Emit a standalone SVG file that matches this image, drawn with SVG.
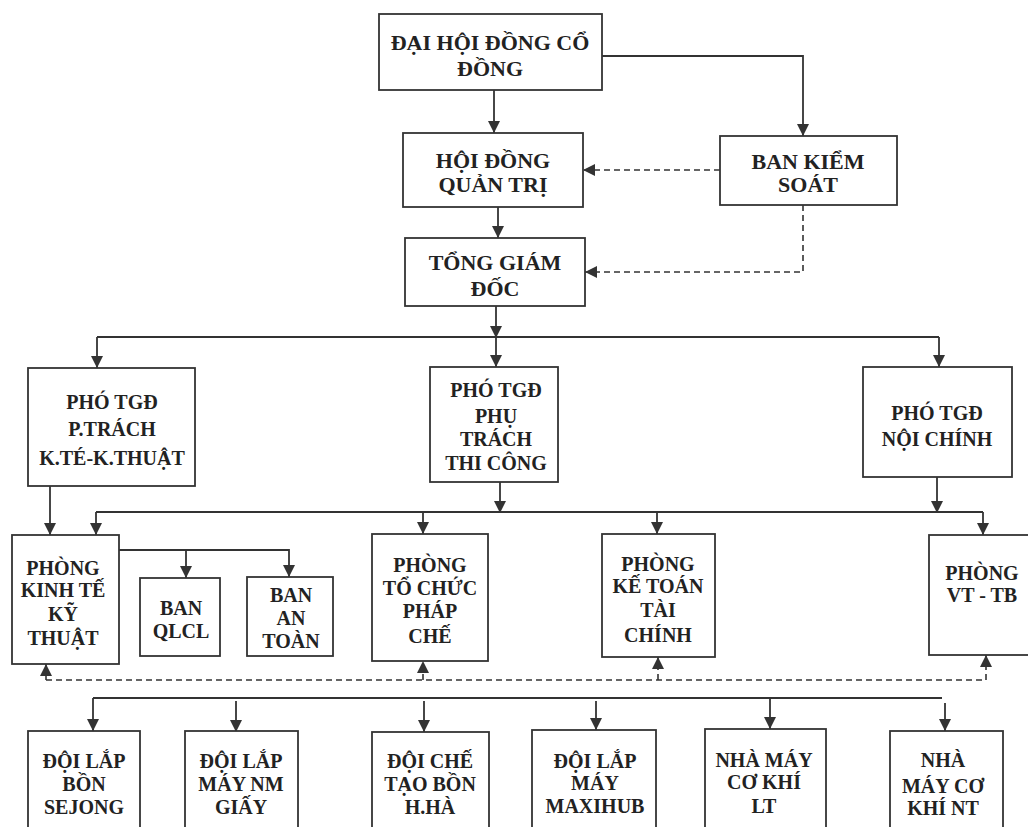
<svg xmlns="http://www.w3.org/2000/svg" width="1028" height="827" viewBox="0 0 1028 827">
<style>
.box{fill:#fff;stroke:#333;stroke-width:1.8}
.t{font-family:"Liberation Serif","Times New Roman",serif;font-weight:bold;font-size:20px;fill:#222;text-anchor:middle}
.b{font-size:22px}
.c{fill:none;stroke:#333;stroke-width:1.8}
.d{fill:none;stroke:#333;stroke-width:1.6;stroke-dasharray:6 4}
</style>
<defs>
<marker id="ah" markerUnits="userSpaceOnUse" markerWidth="12" markerHeight="12" viewBox="0 0 12 12" refX="12" refY="6" orient="auto">
<path d="M0,0 L12,6 L0,12 Z" fill="#333"/>
</marker>
</defs>
<rect width="1028" height="827" fill="#fff"/>

<g id="connectors">
<path class="c" d="M494,90 V133" marker-end="url(#ah)"/>
<path class="c" d="M602,56 H803 V136" marker-end="url(#ah)"/>
<path class="d" d="M720,170 H583" marker-end="url(#ah)"/>
<path class="c" d="M498,207 V238" marker-end="url(#ah)"/>
<path class="d" d="M803,205 V272 H585" marker-end="url(#ah)"/>
<path class="c" d="M496,306 V338" marker-end="url(#ah)"/>
<path class="c" d="M97,337 H939"/>
<path class="c" d="M496,337 V367" marker-end="url(#ah)"/>
<path class="c" d="M97,337 V368" marker-end="url(#ah)"/>
<path class="c" d="M939,337 V367" marker-end="url(#ah)"/>
<path class="c" d="M50,486 V535" marker-end="url(#ah)"/>
<path class="c" d="M500,482 V513" marker-end="url(#ah)"/>
<path class="c" d="M937,477 V513" marker-end="url(#ah)"/>
<path class="c" d="M96,512 H983"/>
<path class="c" d="M96,512 V535" marker-end="url(#ah)"/>
<path class="c" d="M423,512 V534" marker-end="url(#ah)"/>
<path class="c" d="M657,512 V534" marker-end="url(#ah)"/>
<path class="c" d="M983,512 V535" marker-end="url(#ah)"/>
<path class="c" d="M119,550 H289 V577" marker-end="url(#ah)"/>
<path class="c" d="M186,550 V578" marker-end="url(#ah)"/>
<path class="d" d="M46,680 H986"/>
<path class="d" d="M46,680 V664" marker-end="url(#ah)"/>
<path class="d" d="M423,680 V661" marker-end="url(#ah)"/>
<path class="d" d="M658,680 V657" marker-end="url(#ah)"/>
<path class="d" d="M986,680 V655" marker-end="url(#ah)"/>
<path class="c" d="M93,698 H942"/>
<path class="c" d="M93,698 V731" marker-end="url(#ah)"/>
<path class="c" d="M236,701 V732" marker-end="url(#ah)"/>
<path class="c" d="M424,701 V732" marker-end="url(#ah)"/>
<path class="c" d="M596,701 V730" marker-end="url(#ah)"/>
<path class="c" d="M770,698 V729" marker-end="url(#ah)"/>
<path class="c" d="M945,703 V731" marker-end="url(#ah)"/>
</g>

<g id="dhcd"><rect class="box" x="379" y="14" width="223" height="76"/>
<text class="t b" x="490" y="50">ĐẠI HỘI ĐỒNG CỔ</text><text class="t b" x="490" y="76">ĐỒNG</text></g>

<g id="hdqt"><rect class="box" x="403" y="133" width="180" height="74"/>
<text class="t b" x="493" y="168">HỘI ĐỒNG</text><text class="t b" x="493" y="192">QUẢN TRỊ</text></g>

<g id="bks"><rect class="box" x="720" y="136" width="177" height="69"/>
<text class="t b" x="808" y="169">BAN KIỂM</text><text class="t b" x="808" y="192">SOÁT</text></g>

<g id="tgd"><rect class="box" x="405" y="238" width="180" height="68"/>
<text class="t b" x="495" y="270">TỔNG GIÁM</text><text class="t b" x="495" y="296">ĐỐC</text></g>

<g id="pho-tgd-kt"><rect class="box" x="28" y="368" width="167" height="118"/>
<text class="t" x="112" y="409">PHÓ TGĐ</text><text class="t" x="112" y="436">P.TRÁCH</text><text class="t" x="112" y="465">K.TÉ-K.THUẬT</text></g>

<g id="pho-tgd-tc"><rect class="box" x="430" y="367" width="128" height="115"/>
<text class="t" x="496" y="397">PHÓ TGĐ</text><text class="t" x="496" y="423">PHỤ</text><text class="t" x="496" y="446">TRÁCH</text><text class="t" x="496" y="470">THI CÔNG</text></g>

<g id="pho-tgd-nc"><rect class="box" x="863" y="367" width="149" height="110"/>
<text class="t" x="937" y="420">PHÓ TGĐ</text><text class="t" x="937" y="446">NỘI CHÍNH</text></g>

<g id="phong-kt"><rect class="box" x="12" y="535" width="107" height="129"/>
<text class="t" x="63" y="575">PHÒNG</text><text class="t" x="63" y="597">KINH TẾ</text><text class="t" x="63" y="621">KỸ</text><text class="t" x="63" y="645">THUẬT</text></g>

<g id="ban-qlcl"><rect class="box" x="140" y="578" width="80" height="78"/>
<text class="t" x="181" y="615">BAN</text><text class="t" x="181" y="638">QLCL</text></g>

<g id="ban-at"><rect class="box" x="247" y="577" width="86" height="79"/>
<text class="t" x="291" y="602">BAN</text><text class="t" x="291" y="625">AN</text><text class="t" x="291" y="648">TOÀN</text></g>

<g id="phong-tcpc"><rect class="box" x="372" y="534" width="116" height="127"/>
<text class="t" x="430" y="572">PHÒNG</text><text class="t" x="430" y="595">TỔ CHỨC</text><text class="t" x="430" y="618">PHÁP</text><text class="t" x="430" y="643">CHẾ</text></g>

<g id="phong-kttc"><rect class="box" x="602" y="534" width="113" height="123"/>
<text class="t" x="658" y="571">PHÒNG</text><text class="t" x="658" y="593">KẾ TOÁN</text><text class="t" x="658" y="617">TÀI</text><text class="t" x="658" y="642">CHÍNH</text></g>

<g id="phong-vttb"><rect class="box" x="929" y="535" width="106" height="120"/>
<text class="t" x="982" y="580">PHÒNG</text><text class="t" x="982" y="602">VT - TB</text></g>

<g id="doi-sejong"><rect class="box" x="28" y="731" width="112" height="110"/>
<text class="t" x="84" y="768">ĐỘI LẮP</text><text class="t" x="84" y="791">BỒN</text><text class="t" x="84" y="814">SEJONG</text></g>

<g id="doi-giay"><rect class="box" x="185" y="731" width="113" height="110"/>
<text class="t" x="241" y="768">ĐỘI LẮP</text><text class="t" x="241" y="791">MÁY NM</text><text class="t" x="241" y="814">GIẤY</text></g>

<g id="doi-hha"><rect class="box" x="372" y="732" width="117" height="110"/>
<text class="t" x="430" y="768">ĐỘI CHẾ</text><text class="t" x="430" y="791">TẠO BỒN</text><text class="t" x="430" y="814">H.HÀ</text></g>

<g id="doi-maxihub"><rect class="box" x="532" y="730" width="124" height="110"/>
<text class="t" x="595" y="768">ĐỘI LẮP</text><text class="t" x="595" y="790">MÁY</text><text class="t" x="595" y="813">MAXIHUB</text></g>

<g id="nm-lt"><rect class="box" x="705" y="729" width="121" height="110"/>
<text class="t" x="764" y="767">NHÀ MÁY</text><text class="t" x="764" y="789">CƠ KHÍ</text><text class="t" x="764" y="813">LT</text></g>

<g id="nm-nt"><rect class="box" x="890" y="731" width="113" height="110"/>
<text class="t" x="943" y="767">NHÀ</text><text class="t" x="943" y="793">MÁY CƠ</text><text class="t" x="943" y="815">KHÍ NT</text></g>
</svg>
